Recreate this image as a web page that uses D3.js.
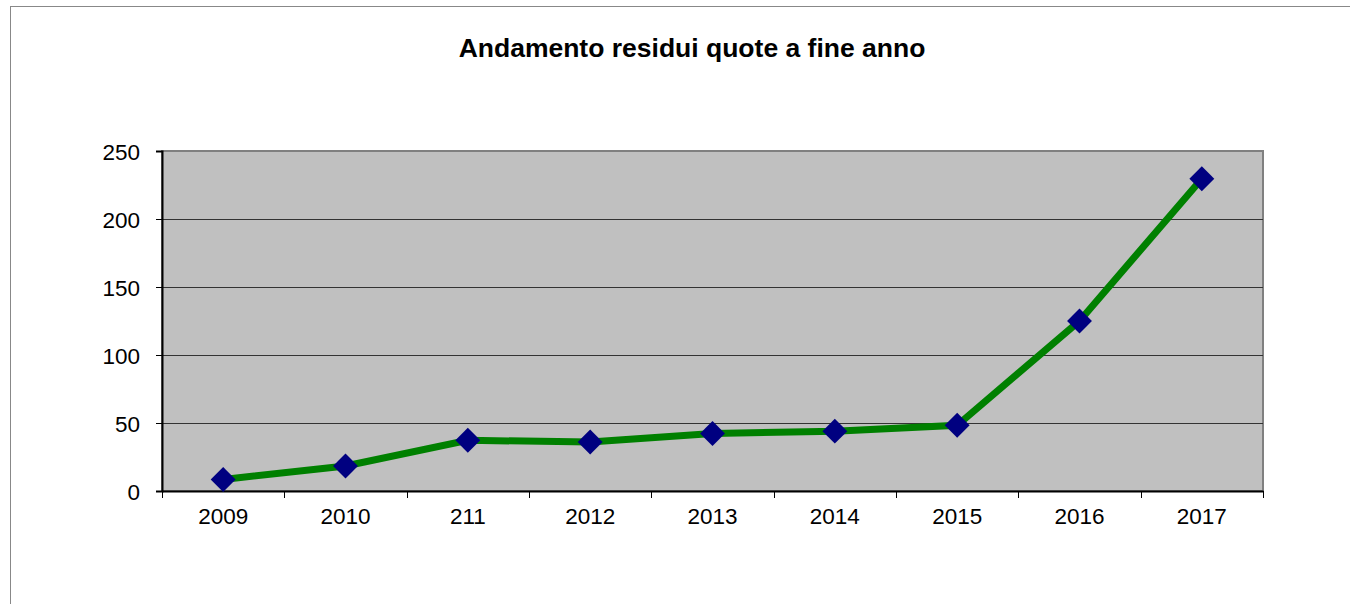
<!DOCTYPE html>
<html>
<head>
<meta charset="utf-8">
<script src="https://cdn.jsdelivr.net/npm/d3@7"></script>
<style>
  body { margin: 0; background: #fff; }
  text { font-family: "Liberation Sans", Arial, sans-serif; }
</style>
</head>
<body>
<div id="chart"></div>
<script>
// Data
const years = ["2009", "2010", "211", "2012", "2013", "2014", "2015", "2016", "2017"]
const residui = [8.5, 18.4, 37.3, 36, 42.3, 44, 48.3, 125, 229.6]
const yTicks = [0, 50, 100, 150, 200, 250]

const WIDTH = 1350
const HEIGHT = 604
const plot = { left: 162, right: 1263, top: 151, bottom: 491 }

const svg = d3.select("#chart")
    .append("svg")
    .attr("width", WIDTH)
    .attr("height", HEIGHT)

// outer chart frame (runs past the window on the right / bottom)
svg.append("rect")
    .attr("x", 10.5).attr("y", 6.5)
    .attr("width", 1370).attr("height", 620)
    .attr("fill", "#fff")
    .attr("stroke", "#888")
    .attr("stroke-width", 1)

svg.append("text")
    .attr("x", 692).attr("y", 57)
    .attr("text-anchor", "middle")
    .style("font-size", "26.5px")
    .style("font-weight", "bold")
    .text("Andamento residui quote a fine anno")

const x = d3.scaleBand()
    .domain(years)
    .range([plot.left, plot.right])

const y = d3.scaleLinear()
    .domain([0, 250])
    .range([plot.bottom, plot.top])

// plot background
svg.append("rect")
    .attr("x", plot.left).attr("y", plot.top)
    .attr("width", plot.right - plot.left)
    .attr("height", plot.bottom - plot.top)
    .attr("fill", "#c0c0c0")
    .attr("stroke", "#808080")
    .attr("stroke-width", 2)

// gridlines
svg.append("g")
    .selectAll("line")
    .data(yTicks.filter(d => d > 0 && d < 250))
    .enter()
    .append("line")
    .attr("x1", plot.left).attr("x2", plot.right)
    .attr("y1", d => Math.round(y(d)) + 0.5)
    .attr("y2", d => Math.round(y(d)) + 0.5)
    .attr("stroke", "#333")
    .attr("stroke-width", 1)

// y axis
const yAxis = svg.append("g")
    .attr("transform", `translate(${plot.left},0)`)
    .call(d3.axisLeft(y).tickValues(yTicks).tickSize(6).tickPadding(16))
yAxis.select(".domain").attr("stroke", "#000").attr("stroke-width", 2)
yAxis.selectAll(".tick line").attr("stroke", "#000")
yAxis.selectAll("text")
    .style("font-size", "22.5px")
    .attr("fill", "#000")
    .attr("dy", "0.36em")

// x axis: ticks sit between categories
const xAxis = svg.append("g")
    .attr("transform", `translate(0,${plot.bottom})`)
    .call(d3.axisBottom(x).tickSize(0).tickPadding(17))
xAxis.select(".domain").attr("stroke", "#000").attr("stroke-width", 2)
xAxis.selectAll("text")
    .style("font-size", "22.5px")
    .attr("fill", "#000")
xAxis.append("g")
    .selectAll("line")
    .data(years.map(d => x(d)).concat([plot.right]))
    .enter()
    .append("line")
    .attr("x1", d => Math.round(d) + 0.5).attr("x2", d => Math.round(d) + 0.5)
    .attr("y1", 0).attr("y2", 7)
    .attr("stroke", "#000")

// series line
const cx = d => x(d) + x.bandwidth() / 2
const line = d3.line()
    .x((d, i) => cx(years[i]))
    .y(d => y(d))

svg.append("path")
    .datum(residui)
    .attr("d", line)
    .attr("fill", "none")
    .attr("stroke", "#008000")
    .attr("stroke-width", 7)

// diamond markers
const diamond = d3.symbol().type(d3.symbolSquare).size(310)
svg.append("g")
    .selectAll("path")
    .data(residui)
    .enter()
    .append("path")
    .attr("d", diamond)
    .attr("transform", (d, i) => `translate(${cx(years[i])},${y(d)}) rotate(45)`)
    .attr("fill", "#000080")
</script>
</body>
</html>
